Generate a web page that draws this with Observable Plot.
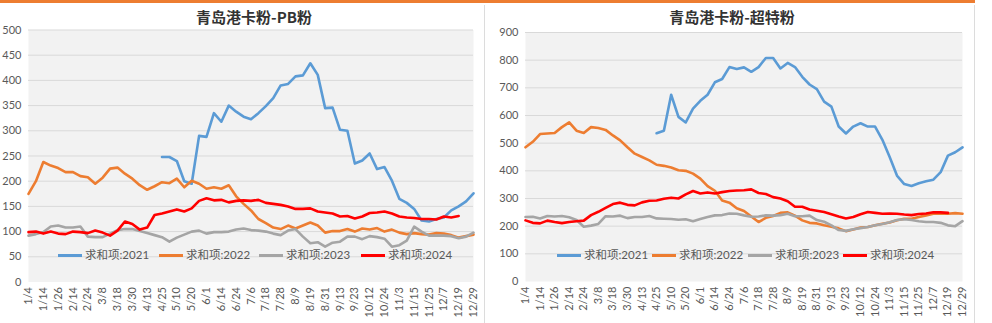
<!DOCTYPE html>
<html>
<head>
<meta charset="utf-8">
<script src="https://cdn.jsdelivr.net/npm/d3@7"></script>
<script src="https://cdn.jsdelivr.net/npm/@observablehq/plot@0.6"></script>
<style>
  html, body { margin: 0; padding: 0; background: #fff; }
  #root { position: relative; width: 992px; height: 323px; overflow: hidden; font-family: Lato, "Noto Sans CJK SC", sans-serif; }
  .topline { position: absolute; left: 0; top: 0; width: 975px; height: 3px; background: #ED7D31; }
  .vsep { position: absolute; top: 5px; width: 1px; height: 318px; background: #dcdcdc; }
  .panel { position: absolute; top: 0; }
  .title { position: absolute; top: 7px; font-family: "Noto Sans CJK SC", sans-serif; font-weight: 700; font-size: 15px; color: #333; white-space: nowrap; transform: translateX(-50%); line-height: 20px; }
  .legend { position: absolute; font-family: Lato, "Noto Sans CJK SC", sans-serif; font-size: 11.5px; color: #595959; white-space: nowrap; line-height: 14px; }
  .legend .item { position: absolute; top: 0; }
  .legend .sw { position: absolute; top: 6px; width: 24px; height: 3px; }
  .legend .tx { position: absolute; top: 0; }
</style>
</head>
<body>
<div id="root">
  <div class="topline"></div>
  <div class="vsep" style="left:484px"></div>
  <div class="vsep" style="left:974px"></div>
</div>
<script>
// ---- categories / tick labels ----
const labels = ["1/4","1/14","1/26","2/14","2/24","3/8","3/18","3/30","4/13","4/25","5/10","5/20","6/1","6/14","6/24","7/6","7/18","7/28","8/9","8/19","8/31","9/13","9/23","10/12","10/24","11/3","11/15","11/25","12/7","12/19","12/29"];
const series = ["求和项:2021","求和项:2022","求和项:2023","求和项:2024"];
const colors = ["#5B9BD5","#ED7D31","#A5A5A5","#FF0000"];
const titles = ["青岛港卡粉-PB粉","青岛港卡粉-超特粉"];

// values sampled every 4 trading days (index 0,4,...,240)
const N = null;
// PB粉
const pb2021 = [N,N,N,N,N,N,N,N,N,N,N,N,N,N,N,N,N,N,
  248,248,240,200,195,290,288,335,318,350,338,328,323,335,349,365,390,393,408,410,434,411,345,346,302,300,235,241,255,224,228,201,165,157,145,122,120,125,128,142,150,160,176];
const pb2022 = [175,200,238,231,226,218,218,210,208,195, 207,225,227,215,205,192,183,190,198,196,
  205,188,201,195,185,188,185,192,170,155, 142,125,117,108,105,112,106,112,118,112,
  98,101,101,105,100,106,104,107,100,104, 98,95,97,95,94,97,96,93,88,91, 94];
const pb2023 = [92,95,99,110,112,108,108,110,90,89, 89,96,103,105,105,101,97,93,89,80,
  88,94,100,102,96,99,99,100,104,106, 103,102,100,96,93,102,105,90,77,79,
  70,78,80,90,90,85,91,89,86,70, 73,82,110,100,92,92,92,91,87,90, 98];
const pb2024 = [99,100,96,100,96,95,100,99,97,102, 98,92,102,120,115,104,108,133,136,140,
  144,140,146,161,166,162,163,158,161,162, 161,163,157,155,153,150,145,145,146,140,
  138,136,130,131,126,130,137,138,140,136, 130,128,127,125,125,124,130,128,131,N, N];
// 超特粉
const cs2021 = [N,N,N,N,N,N,N,N,N,N,N,N,N,N,N,N,N,N,
  536,545,675,595,575,625,653,675,720,732,775,768,774,758,775,808,808,770,790,775,740,712,695,650,632,560,535,560,572,560,560,512,450,383,352,345,355,362,368,395,455,467,485];
const cs2022 = [485,505,533,535,537,558,575,545,537,558, 555,548,528,510,485,462,450,438,422,418,
  412,402,400,390,372,345,328,293,285,265, 255,235,215,230,237,248,250,238,221,212,
  210,203,198,192,182,188,195,197,203,209, 213,221,227,227,233,239,245,245,245,247, 245];
const cs2023 = [233,234,228,237,235,237,232,222,198,202, 208,236,235,238,229,233,233,237,228,227,
  226,223,225,218,226,233,239,240,246,245, 239,234,235,239,238,240,245,236,236,238,
  222,216,203,186,183,189,193,197,203,208, 214,222,225,222,218,215,215,212,203,200, 218];
const cs2024 = [221,212,210,220,215,211,215,218,220,240, 252,266,280,285,277,275,286,292,293,299,
  303,300,315,327,318,322,318,323,327,329, 330,333,320,316,305,300,290,270,270,260,
  256,251,243,235,228,233,243,251,248,245, 246,245,242,240,244,246,250,250,248,N, N];

function toRows(arrs) {
  const rows = [];
  arrs.forEach((arr, s) => arr.forEach((v, k) => { if (v != null) rows.push({i: k * 4, v, s: series[s]}); }));
  return rows;
}

const tickIdx = d3.range(0, 241, 8);
const fontFam = 'Lato, "Noto Sans CJK SC", sans-serif';

function makePanel(rows, opt) {
  return Plot.plot({
    width: opt.width, height: 323,
    marginLeft: opt.ml, marginRight: opt.mr, marginTop: opt.mt, marginBottom: opt.mb,
    style: {background: "transparent", fontFamily: fontFam, fontSize: "11px", color: "#595959"},
    x: {domain: [0, 240], ticks: tickIdx, tickFormat: i => labels[Math.round(i / 8)], tickRotate: -90, tickSize: 0, tickPadding: 5, label: null},
    y: {domain: [0, opt.ymax], ticks: d3.range(0, opt.ymax + 1, opt.step), tickSize: 0, tickPadding: 7, label: null},
    color: {domain: series, range: colors},
    marks: [
      Plot.frame({fill: "#f2f2f2", stroke: "none"}),
      Plot.gridY(d3.range(opt.step, opt.ymax + 1, opt.step), {stroke: "#d9d9d9", strokeOpacity: 1, strokeWidth: 1}),
      Plot.line(rows, {x: "i", y: "v", z: "s", stroke: "s", strokeWidth: 2.6, strokeLinejoin: "round"})
    ]
  });
}

const root = document.getElementById("root");

function addPanel(left, chart, titleText, titleX, legendLeft, legendTop, legendOffsets) {
  const wrap = document.createElement("div");
  wrap.className = "panel";
  wrap.style.left = left + "px";
  wrap.appendChild(chart);
  root.appendChild(wrap);
  const t = document.createElement("div");
  t.className = "title";
  t.style.left = titleX + "px";
  t.textContent = titleText;
  root.appendChild(t);
  const lg = document.createElement("div");
  lg.className = "legend";
  lg.style.left = legendLeft + "px";
  lg.style.top = legendTop + "px";
  series.forEach((s, k) => {
    const it = document.createElement("div");
    it.className = "item";
    it.style.left = legendOffsets[k] + "px";
    const sw = document.createElement("div");
    sw.className = "sw";
    sw.style.left = "0px";
    sw.style.background = colors[k];
    const tx = document.createElement("div");
    tx.className = "tx";
    tx.style.left = "27px";
    tx.textContent = s;
    it.appendChild(sw); it.appendChild(tx);
    lg.appendChild(it);
  });
  root.appendChild(lg);
}

const left = makePanel(toRows([pb2021, pb2022, pb2023, pb2024]), {width: 484, ml: 28, mr: 11, mt: 29.5, mb: 41.5, ymax: 500, step: 50});
addPanel(0, left, titles[0], 254, 58, 248, [0, 101, 201, 303]);

const right = makePanel(toRows([cs2021, cs2022, cs2023, cs2024]), {width: 487, ml: 38, mr: 12, mt: 32, mb: 42, ymax: 900, step: 100});
addPanel(487, right, titles[1], 732, 557, 248, [0, 95, 191, 286]);
</script>
</body>
</html>
